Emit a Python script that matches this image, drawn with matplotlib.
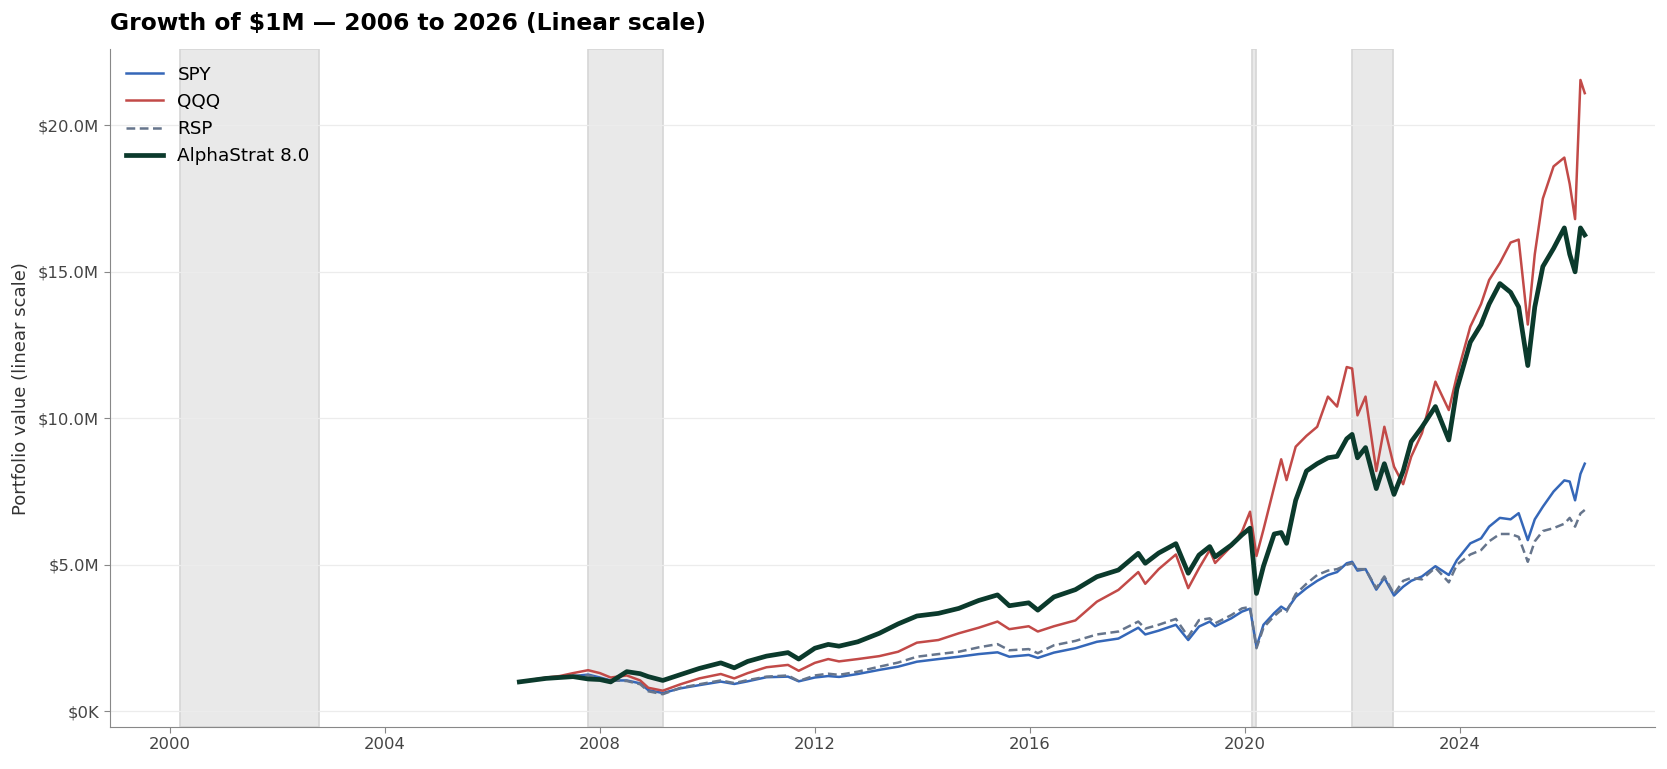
import numpy as np
import matplotlib
matplotlib.use("Agg")
import matplotlib.pyplot as plt
from matplotlib.ticker import FuncFormatter

# Data (values in $M, dates in decimal years)
dates = [2006.5, 2006.75, 2007.0, 2007.25, 2007.5, 2007.78, 2008.0, 2008.2, 2008.5, 2008.75,
         2008.9, 2009.17, 2009.5, 2009.85, 2010.25, 2010.5, 2010.75, 2011.1, 2011.5, 2011.7,
         2012.0, 2012.25, 2012.45, 2012.8, 2013.2, 2013.55, 2013.9, 2014.3, 2014.68, 2015.05,
         2015.4, 2015.62, 2015.98, 2016.15, 2016.45, 2016.85, 2017.25, 2017.65, 2018.02, 2018.15,
         2018.4, 2018.72, 2018.95, 2019.15, 2019.35, 2019.45, 2019.75, 2019.95, 2020.1, 2020.22,
         2020.35, 2020.55, 2020.68, 2020.78, 2020.95, 2021.15, 2021.35, 2021.55, 2021.72, 2021.9,
         2022.0, 2022.1, 2022.25, 2022.45, 2022.6, 2022.78, 2022.95, 2023.1, 2023.3, 2023.55,
         2023.8, 2023.95, 2024.2, 2024.4, 2024.55, 2024.75, 2024.95, 2025.1, 2025.27, 2025.4,
         2025.55, 2025.75, 2025.95, 2026.05, 2026.15, 2026.25, 2026.33]

spy = [1.00, 1.06, 1.12, 1.15, 1.20, 1.25, 1.15, 1.05, 1.05, 0.95,
       0.72, 0.62, 0.78, 0.89, 1.01, 0.93, 1.02, 1.16, 1.18, 1.02,
       1.15, 1.20, 1.17, 1.27, 1.41, 1.52, 1.69, 1.78, 1.86, 1.95,
       2.01, 1.86, 1.92, 1.82, 2.00, 2.15, 2.37, 2.48, 2.85, 2.62,
       2.75, 2.95, 2.43, 2.89, 3.06, 2.90, 3.17, 3.40, 3.50, 2.20,
       2.95, 3.35, 3.57, 3.45, 3.90, 4.20, 4.45, 4.65, 4.75, 5.05,
       5.10, 4.80, 4.85, 4.15, 4.55, 3.95, 4.25, 4.45, 4.60, 4.95,
       4.65, 5.16, 5.73, 5.90, 6.30, 6.60, 6.55, 6.76, 5.84, 6.55,
       6.98, 7.50, 7.88, 7.84, 7.20, 8.10, 8.45]

qqq = [1.00, 1.08, 1.15, 1.20, 1.30, 1.40, 1.30, 1.15, 1.22, 1.05,
       0.80, 0.70, 0.92, 1.12, 1.27, 1.12, 1.30, 1.50, 1.58, 1.38,
       1.65, 1.78, 1.70, 1.78, 1.88, 2.03, 2.34, 2.43, 2.66, 2.85,
       3.06, 2.80, 2.90, 2.72, 2.90, 3.10, 3.74, 4.14, 4.75, 4.35,
       4.85, 5.35, 4.20, 4.88, 5.50, 5.06, 5.63, 6.13, 6.81, 5.30,
       6.20, 7.66, 8.60, 7.89, 9.03, 9.40, 9.71, 10.74, 10.40, 11.75,
       11.70, 10.10, 10.74, 8.20, 9.71, 8.35, 7.75, 8.69, 9.49, 11.25,
       10.28, 11.45, 13.13, 13.90, 14.72, 15.30, 16.00, 16.10, 13.20, 15.60,
       17.50, 18.60, 18.90, 18.00, 16.80, 21.55, 21.10]

rsp = [1.00, 1.05, 1.12, 1.16, 1.20, 1.22, 1.12, 1.05, 1.03, 0.92,
       0.68, 0.58, 0.80, 0.92, 1.05, 0.96, 1.06, 1.18, 1.22, 1.03,
       1.22, 1.28, 1.24, 1.35, 1.52, 1.66, 1.86, 1.95, 2.03, 2.18,
       2.29, 2.08, 2.12, 1.98, 2.25, 2.40, 2.62, 2.72, 3.06, 2.82,
       2.95, 3.15, 2.54, 3.11, 3.17, 3.00, 3.28, 3.51, 3.56, 2.15,
       2.85, 3.25, 3.45, 3.40, 4.00, 4.35, 4.65, 4.80, 4.85, 5.00,
       5.05, 4.85, 4.85, 4.20, 4.60, 4.00, 4.45, 4.55, 4.50, 4.90,
       4.40, 5.00, 5.35, 5.50, 5.80, 6.05, 6.05, 5.95, 5.10, 5.80,
       6.15, 6.25, 6.40, 6.60, 6.30, 6.75, 6.87]

alpha = [1.00, 1.06, 1.12, 1.15, 1.18, 1.10, 1.08, 1.00, 1.35, 1.28,
         1.18, 1.05, 1.25, 1.46, 1.65, 1.48, 1.70, 1.88, 2.00, 1.78,
         2.15, 2.28, 2.22, 2.37, 2.66, 2.98, 3.25, 3.34, 3.51, 3.78,
         3.97, 3.60, 3.70, 3.45, 3.90, 4.15, 4.59, 4.82, 5.39, 5.05,
         5.40, 5.72, 4.71, 5.33, 5.62, 5.27, 5.67, 6.02, 6.25, 4.02,
         4.95, 6.05, 6.10, 5.73, 7.20, 8.20, 8.45, 8.65, 8.70, 9.30,
         9.45, 8.65, 9.00, 7.60, 8.45, 7.40, 8.20, 9.20, 9.70, 10.40,
         9.26, 11.00, 12.60, 13.20, 13.90, 14.60, 14.30, 13.80, 11.80, 13.80,
         15.18, 15.80, 16.50, 15.60, 15.00, 16.50, 16.26]

# Market stress periods (shaded)
stress_start = [2000.18, 2007.77, 2020.13, 2022.0]
stress_end = [2002.77, 2009.17, 2020.22, 2022.76]

x = np.array(dates)
to_usd = lambda v: np.array(v) * 1e6

fig, ax = plt.subplots(figsize=(16.67, 7.69), dpi=100)
fig.subplots_adjust(left=0.0657, right=0.9928, bottom=0.0546, top=0.936)

for s, e in zip(stress_start, stress_end):
    ax.axvspan(s, e, facecolor="#e9e9e9", edgecolor="#d6d6d6", lw=1.2, zorder=0)

ax.plot(x, to_usd(spy), color="#3567b8", lw=1.8, label="SPY", zorder=3)
ax.plot(x, to_usd(qqq), color="#c24a48", lw=1.8, label="QQQ", zorder=3)
ax.plot(x, to_usd(rsp), color="#66758c", lw=1.8, ls=(0, (3.5, 1.8)), label="RSP", zorder=3)
ax.plot(x, to_usd(alpha), color="#0b3a2c", lw=3.4, label="AlphaStrat 8.0", zorder=4)

# axis limits
lo, hi = stress_start[0], dates[-1]
pad = 0.05 * (hi - lo)
ax.set_xlim(lo - pad, hi + pad)
ax.set_ylim(-0.54e6, 22.6e6)

ax.set_xticks(range(2000, 2028, 4))
ax.set_yticks(np.arange(0, 21e6, 5e6))


def money(v, pos):
    if abs(v) >= 1e6:
        return f"${v / 1e6:.1f}M"
    return f"${v / 1e3:.0f}K"


ax.yaxis.set_major_formatter(FuncFormatter(money))
ax.grid(axis="y", color="#ececec", lw=0.9)
ax.set_axisbelow(True)

for side in ["top", "right"]:
    ax.spines[side].set_visible(False)
for side in ["left", "bottom"]:
    ax.spines[side].set_color("#888888")
ax.tick_params(colors="#888888", labelcolor="#444444", labelsize=11.8, length=4)

ax.set_ylabel("Portfolio value (linear scale)", fontsize=13, color="#333333", labelpad=5.5)
ax.set_title("Growth of $1M \u2014 2006 to 2026 (Linear scale)", loc="left",
             fontsize=16.8, fontweight="bold", pad=14)

ax.legend(loc="upper left", frameon=False, fontsize=13.2, handlelength=2.0,
          borderaxespad=0.5)

fig.savefig("out.png", dpi=100)
